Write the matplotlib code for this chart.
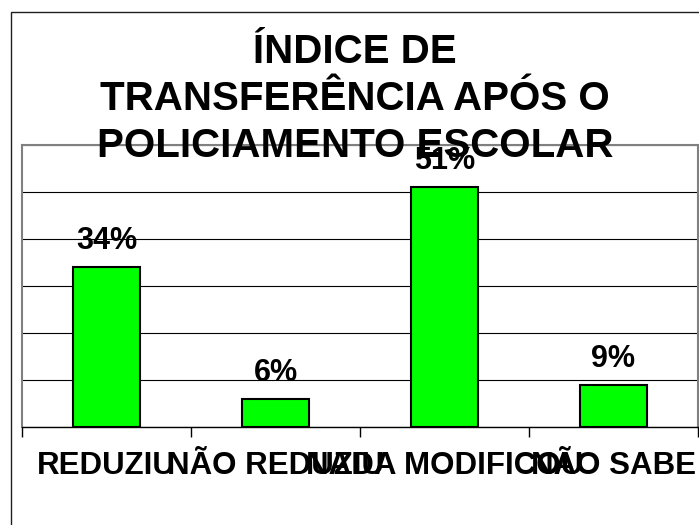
import matplotlib
matplotlib.use("Agg")
import matplotlib.pyplot as plt
from matplotlib.patches import Rectangle

categories = ["REDUZIU", "NÃO REDUZIU", "NADA MODIFICOU", "NÃO SABE"]
values = [34, 6, 51, 9]
value_labels = ["34%", "6%", "51%", "9%"]
title_lines = ["ÍNDICE DE", "TRANSFERÊNCIA APÓS O", "POLICIAMENTO ESCOLAR"]

plt.rcParams['font.family'] = ['Liberation Sans', 'DejaVu Sans']

W, H = 699, 525
fig = plt.figure(figsize=(W / 100, H / 100), dpi=100)
fig.patch.set_facecolor('white')

# outer chart-area frame
fig.patches.append(Rectangle((11 / W, -0.2), 1.2, 1.2 + (H - 12) / H - 1.0 + 0.0,
                             transform=fig.transFigure, fill=False,
                             edgecolor='#202020', linewidth=1.0, zorder=0))

ax = fig.add_axes([22 / W, (H - 427) / H, (698 - 22) / W, (427 - 145) / H])
x = list(range(len(categories)))
ax.bar(x, values, width=0.4, color='#00FF00', edgecolor='black', linewidth=1.5, zorder=3)
ax.set_xlim(-0.5, len(categories) - 0.5)
ax.set_ylim(0, 60)
ax.set_yticks(range(0, 61, 10))
ax.yaxis.grid(True, color='black', linewidth=0.8, zorder=0)
ax.set_axisbelow(True)
ax.tick_params(axis='y', left=False, labelleft=False)
ax.set_xticks([i - 0.5 for i in range(len(categories) + 1)])
ax.set_xticklabels([])
ax.tick_params(axis='x', direction='out', length=7, width=1, color='black')
for s in ['top', 'left', 'right']:
    ax.spines[s].set_color('#808080')
    ax.spines[s].set_linewidth(1.5)
ax.spines['bottom'].set_color('black')
ax.spines['bottom'].set_linewidth(1.0)

for xi, v, lab in zip(x, values, value_labels):
    ax.annotate(lab, (xi, v), xytext=(0, 13), textcoords='offset points',
                ha='center', va='baseline', fontsize=22, fontweight='bold',
                zorder=5, annotation_clip=False)

for xi, c in zip(x, categories):
    ax.annotate(c, (xi, 0), xytext=(0, -34), textcoords='offset points',
                ha='center', va='baseline', fontsize=22.5, fontweight='bold',
                xycoords=('data', 'data'), annotation_clip=False)

baselines = [63, 110, 157]
for line, b in zip(title_lines, baselines):
    fig.text(355 / W, 1 - b / H, line, ha='center', va='baseline',
             fontsize=29, fontweight='bold', zorder=10)

fig.savefig('out.png', dpi=100, facecolor='white')
